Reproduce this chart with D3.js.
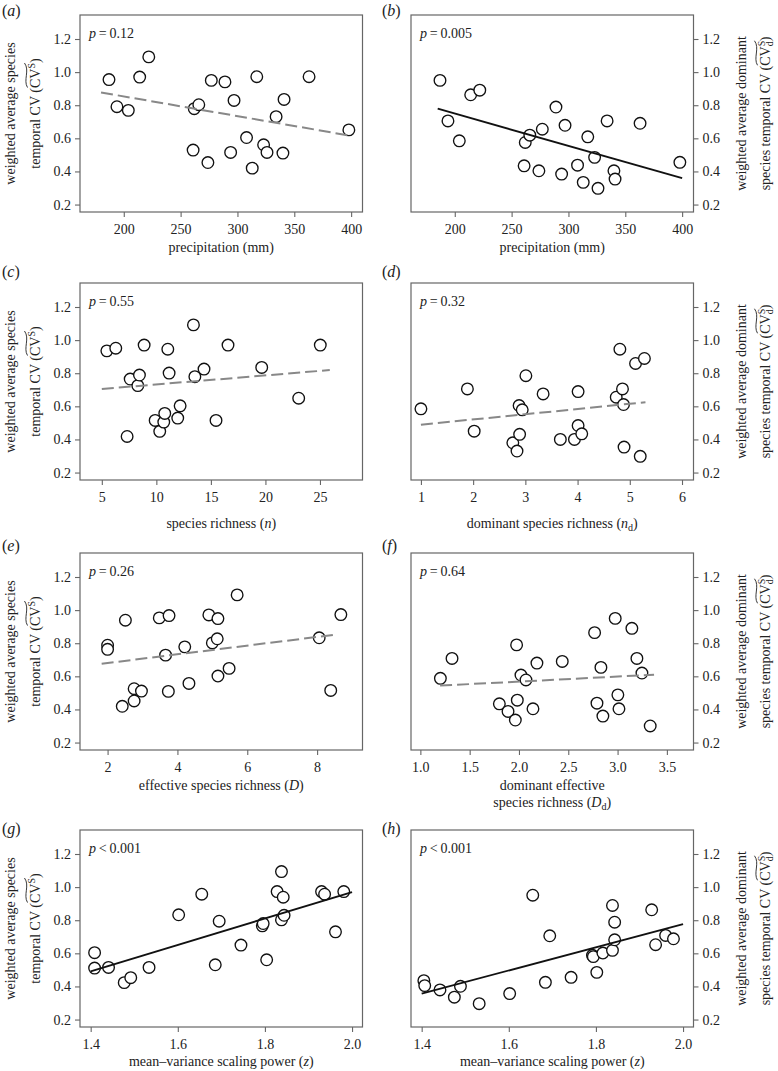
<!DOCTYPE html>
<html>
<head>
<meta charset="utf-8">
<script src="https://cdn.jsdelivr.net/npm/d3@7"></script>
<style>
  body { margin: 0; background: #fff; }
</style>
</head>
<body>
<div id="fig"></div>
<script>
// values, 23 sites per panel
var precipitation = [187, 194, 204, 214, 222, 261, 262, 266, 274, 277, 289, 294, 297, 308, 313, 317, 323, 326, 334, 340, 341, 363, 398];
var cvSPrecip = [0.955, 0.791, 0.769, 0.970, 1.092, 0.529, 0.779, 0.803, 0.454, 0.950, 0.941, 0.515, 0.829, 0.605, 0.420, 0.972, 0.561, 0.515, 0.731, 0.511, 0.835, 0.972, 0.651];
var cvDPrecip = [0.950, 0.705, 0.585, 0.863, 0.891, 0.434, 0.575, 0.619, 0.404, 0.655, 0.789, 0.384, 0.679, 0.438, 0.334, 0.609, 0.485, 0.298, 0.705, 0.404, 0.354, 0.691, 0.455];

var richness = [5.46, 6.28, 7.32, 7.60, 8.30, 8.45, 8.88, 9.89, 10.31, 10.68, 10.77, 11.05, 11.17, 11.96, 12.18, 13.40, 13.53, 14.37, 15.47, 16.57, 19.66, 23.05, 25.03];
var cvSRichness = [0.935, 0.951, 0.418, 0.765, 0.725, 0.789, 0.970, 0.515, 0.449, 0.505, 0.557, 0.945, 0.801, 0.529, 0.603, 1.092, 0.779, 0.825, 0.515, 0.970, 0.835, 0.649, 0.970];

var domRichness = [1.00, 1.89, 2.02, 2.76, 2.84, 2.88, 2.89, 2.94, 3.01, 3.34, 3.67, 3.94, 4.01, 4.01, 4.08, 4.74, 4.81, 4.86, 4.88, 4.89, 5.11, 5.20, 5.28];
var cvDRichness = [0.585, 0.705, 0.450, 0.380, 0.330, 0.605, 0.431, 0.579, 0.785, 0.675, 0.400, 0.400, 0.689, 0.484, 0.434, 0.655, 0.945, 0.705, 0.611, 0.354, 0.859, 0.298, 0.889];

var effRichness = [2.00, 2.00, 2.42, 2.51, 2.76, 2.76, 2.97, 3.48, 3.66, 3.76, 3.74, 4.21, 4.33, 4.90, 5.00, 5.14, 5.16, 5.16, 5.48, 5.71, 8.06, 8.39, 8.68];
var cvSEff = [0.788, 0.763, 0.419, 0.939, 0.525, 0.451, 0.511, 0.953, 0.728, 0.967, 0.509, 0.778, 0.557, 0.971, 0.802, 0.827, 0.949, 0.602, 0.648, 1.092, 0.833, 0.515, 0.973];

var domEffRichness = [1.203, 1.321, 1.801, 1.889, 1.963, 1.976, 1.983, 2.020, 2.071, 2.142, 2.182, 2.439, 2.767, 2.791, 2.831, 2.851, 2.976, 3.003, 3.014, 3.145, 3.196, 3.247, 3.331];
var cvDEff = [0.588, 0.708, 0.434, 0.388, 0.336, 0.790, 0.456, 0.608, 0.578, 0.404, 0.680, 0.690, 0.864, 0.438, 0.654, 0.360, 0.950, 0.488, 0.404, 0.890, 0.708, 0.620, 0.300];

var zPowerS = [1.409, 1.409, 1.441, 1.477, 1.492, 1.534, 1.602, 1.655, 1.686, 1.695, 1.745, 1.794, 1.796, 1.804, 1.828, 1.838, 1.838, 1.842, 1.844, 1.930, 1.937, 1.962, 1.981];
var cvSPower = [0.604, 0.511, 0.515, 0.423, 0.453, 0.515, 0.833, 0.957, 0.531, 0.794, 0.650, 0.766, 0.780, 0.561, 0.973, 1.094, 0.802, 0.939, 0.830, 0.973, 0.957, 0.730, 0.973];

var zPowerD = [1.405, 1.407, 1.442, 1.475, 1.489, 1.532, 1.602, 1.655, 1.684, 1.694, 1.743, 1.792, 1.794, 1.802, 1.816, 1.838, 1.838, 1.843, 1.843, 1.928, 1.937, 1.960, 1.978];
var cvDPower = [0.435, 0.405, 0.379, 0.335, 0.401, 0.296, 0.357, 0.951, 0.425, 0.706, 0.455, 0.588, 0.580, 0.485, 0.602, 0.618, 0.889, 0.788, 0.682, 0.863, 0.652, 0.708, 0.688];

// fitted lines, end points [x, y]
var fitA = [[180, 0.877], [400, 0.615]];
var fitB = [[185, 0.779], [400, 0.360]];
var fitC = [[5, 0.705], [25.9, 0.819]];
var fitD = [[1, 0.489], [5.3, 0.625]];
var fitE = [[1.83, 0.676], [8.57, 0.853]];
var fitF = [[1.2, 0.544], [3.37, 0.610]];
var fitG = [[1.4, 0.491], [2.0, 0.970]];
var fitH = [[1.4, 0.357], [2.0, 0.776]];

var pValues = ["= 0.12", "= 0.005", "= 0.55", "= 0.32", "= 0.26", "= 0.64", "< 0.001", "< 0.001"];
var yTicks = [0.2, 0.4, 0.6, 0.8, 1.0, 1.2];

// layout
var W = 778, H = 1071;
var colX = [80, 411], frameW = 282.5;
var rowTop = [15, 283, 553, 830], frameH = 197;
var letterX = [2, 382];
var letterY = [16, 276.5, 551, 834];
var serif = "'Liberation Serif','Times New Roman',serif";
var ink = "#222", frameCol = "#666";

var panels = [
  { id: "a", col: 0, row: 0, xs: precipitation, ys: cvSPrecip, xDomain: [161.5, 410], xTicks: [200, 250, 300, 350, 400], fmt: "d", fit: fitA, sig: false,
    xTitle: [[{ t: "precipitation (mm)" }]], titleDy: 40 },
  { id: "b", col: 1, row: 0, xs: precipitation, ys: cvDPrecip, xDomain: [161.5, 410], xTicks: [200, 250, 300, 350, 400], fmt: "d", fit: fitB, sig: true,
    xTitle: [[{ t: "precipitation (mm)" }]], titleDy: 40 },
  { id: "c", col: 0, row: 1, xs: richness, ys: cvSRichness, xDomain: [3.0, 28.9], xTicks: [5, 10, 15, 20, 25], fmt: "d", fit: fitC, sig: false,
    xTitle: [[{ t: "species richness (" }, { t: "n", it: true }, { t: ")" }]], titleDy: 48 },
  { id: "d", col: 1, row: 1, xs: domRichness, ys: cvDRichness, xDomain: [0.81, 6.22], xTicks: [1, 2, 3, 4, 5, 6], fmt: "d", fit: fitD, sig: false,
    xTitle: [[{ t: "dominant species richness (" }, { t: "n", it: true }, { t: "d", size: 10, shift: 3 }, { t: ")" }]], titleDy: 48 },
  { id: "e", col: 0, row: 2, xs: effRichness, ys: cvSEff, xDomain: [1.21, 9.30], xTicks: [2, 4, 6, 8], fmt: "d", fit: fitE, sig: false,
    xTitle: [[{ t: "effective species richness (" }, { t: "D", it: true }, { t: ")" }]], titleDy: 40 },
  { id: "f", col: 1, row: 2, xs: domEffRichness, ys: cvDEff, xDomain: [0.905, 3.77], xTicks: [1.0, 1.5, 2.0, 2.5, 3.0, 3.5], fmt: ".1f", fit: fitF, sig: false,
    xTitle: [[{ t: "dominant effective" }], [{ t: "species richness (" }, { t: "D", it: true }, { t: "d", size: 10, shift: 3 }, { t: ")" }]], titleDy: 40 },
  { id: "g", col: 0, row: 3, xs: zPowerS, ys: cvSPower, xDomain: [1.3755, 2.024], xTicks: [1.4, 1.6, 1.8, 2.0], fmt: ".1f", fit: fitG, sig: true,
    xTitle: [[{ t: "mean\u2013variance scaling power (" }, { t: "z", it: true }, { t: ")" }]], titleDy: 39 },
  { id: "h", col: 1, row: 3, xs: zPowerD, ys: cvDPower, xDomain: [1.3755, 2.024], xTicks: [1.4, 1.6, 1.8, 2.0], fmt: ".1f", fit: fitH, sig: true,
    xTitle: [[{ t: "mean\u2013variance scaling power (" }, { t: "z", it: true }, { t: ")" }]], titleDy: 39 }
];

var svg = d3.select("#fig").append("svg")
  .attr("width", W)
  .attr("height", H)
  .style("background", "#fff");

// text made of pieces (italic, sub/superscripts); marks remember char ranges
function richText(parent, x, y, pieces, size, anchor) {
  var text = parent.append("text")
    .attr("x", x).attr("y", y)
    .attr("text-anchor", anchor)
    .attr("fill", ink)
    .style("font-family", serif)
    .style("font-size", size + "px");
  var shift = 0, idx = 0, prev = null, marks = {};
  pieces.forEach(function (p) {
    var ts = text.append("tspan").text(p.t);
    var s = p.shift || 0;
    if (s !== shift) ts.attr("dy", s - shift);
    shift = s;
    if (p.it) ts.style("font-style", "italic");
    if (p.size) ts.style("font-size", p.size + "px");
    if (p.stack && prev) ts.attr("dx", -prev.getComputedTextLength());
    if (p.mark) marks[p.mark] = [idx, idx + p.t.length - 1];
    idx += p.t.length;
    prev = ts.node();
  });
  return { text: text, marks: marks };
}

// wide tilde over a marked run of characters
function addTilde(parent, label, y) {
  var n = label.text.node();
  var a = n.getExtentOfChar(label.marks.from[0]);
  var b = n.getExtentOfChar(label.marks.to[1]);
  var x0 = a.x + 0.5, x1 = b.x + b.width, w = x1 - x0;
  parent.append("path")
    .attr("d", "M" + x0 + "," + (y + 1.5) +
      " C" + (x0 + w * 0.3) + "," + (y - 3) + " " + (x0 + w * 0.7) + "," + (y + 4) + " " + x1 + "," + (y - 1.5))
    .attr("fill", "none")
    .attr("stroke", ink)
    .attr("stroke-width", 0.9);
}

panels.forEach(function (p, i) {
  var left = colX[p.col], top = rowTop[p.row];
  var g = svg.append("g").attr("transform", "translate(" + left + "," + top + ")");

  var x = d3.scaleLinear().domain(p.xDomain).range([0, frameW]);
  var y = d3.scaleLinear().domain([0.155, 1.345]).range([frameH, 0]);

  // x axis
  var gx = g.append("g")
    .attr("transform", "translate(0," + frameH + ")")
    .call(d3.axisBottom(x).tickValues(p.xTicks).tickFormat(d3.format(p.fmt)).tickSize(5).tickPadding(7));
  gx.select(".domain").remove();

  // y axis, on the outer side
  var yAxis = p.col === 0 ? d3.axisLeft(y) : d3.axisRight(y);
  var gy = g.append("g")
    .attr("transform", "translate(" + (p.col === 0 ? 0 : frameW) + ",0)")
    .call(yAxis.tickValues(yTicks).tickFormat(d3.format(".1f")).tickSize(5).tickPadding(4));
  gy.select(".domain").remove();

  [gx, gy].forEach(function (ax) {
    ax.selectAll(".tick line").attr("stroke", frameCol).attr("stroke-width", 1.1);
    ax.selectAll(".tick text")
      .attr("fill", ink)
      .style("font-family", serif)
      .style("font-size", "14px");
  });

  // frame
  g.append("rect")
    .attr("width", frameW)
    .attr("height", frameH)
    .attr("fill", "none")
    .attr("stroke", frameCol)
    .attr("stroke-width", 1.2);

  // points
  g.append("g")
    .selectAll("circle")
    .data(d3.zip(p.xs, p.ys))
    .enter()
    .append("circle")
    .attr("cx", function (d) { return x(d[0]); })
    .attr("cy", function (d) { return y(d[1]); })
    .attr("r", 5.8)
    .attr("fill", "#fff")
    .attr("stroke", "#111")
    .attr("stroke-width", 1.35);

  // fitted line
  g.append("path")
    .datum(p.fit)
    .attr("d", d3.line().x(function (d) { return x(d[0]); }).y(function (d) { return y(d[1]); }))
    .attr("fill", "none")
    .attr("stroke", p.sig ? "#111" : "#888")
    .attr("stroke-width", p.sig ? 1.9 : 2)
    .attr("stroke-dasharray", p.sig ? null : "12,5");

  // p value
  richText(g, 9, 22.5, [{ t: "p", it: true }, { t: "\u2009" + pValues[i].replace(" ", "\u2009") }], 14, "start");

  // panel letter
  richText(svg, letterX[p.col], letterY[p.row], [{ t: "(" }, { t: p.id, it: true }, { t: ")" }], 16, "start");

  // x title
  p.xTitle.forEach(function (line, k) {
    richText(g, frameW / 2, frameH + p.titleDy + k * 17, line, 14, "middle");
  });

  // y title, rotated
  var cy = top + frameH / 2;
  var yt = svg.append("g")
    .attr("transform", "translate(" + (p.col === 0 ? 40 : 770) + "," + cy + ") rotate(-90)");
  if (p.col === 0) {
    richText(yt, 0, -25, [{ t: "weighted average species" }], 14, "middle");
    var l2 = richText(yt, 0, 0, [{ t: "temporal CV (" }, { t: "CV", mark: "from" }, { t: "S", size: 10, shift: -5, mark: "to" }, { t: ")" }], 14, "middle");
    addTilde(yt, l2, -14);
  } else {
    richText(yt, 0, -24, [{ t: "weighted average dominant" }], 14, "middle");
    var r2 = richText(yt, 0, 0, [{ t: "species temporal CV (" }, { t: "CV", mark: "from" }, { t: "S", size: 10, shift: -5, mark: "to" },
      { t: "d", size: 10, shift: 3, stack: true }, { t: ")", shift: 0 }], 14, "middle");
    addTilde(yt, r2, -14);
  }
});
</script>
</body>
</html>
